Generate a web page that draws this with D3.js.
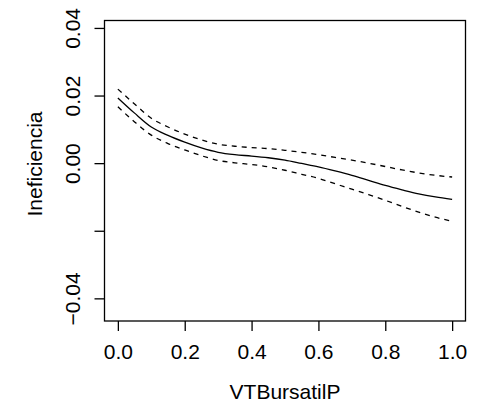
<!DOCTYPE html>
<html>
<head>
<meta charset="utf-8">
<script src="https://cdn.jsdelivr.net/npm/d3@7"></script>
<style>
  html, body { margin: 0; padding: 0; background: #fff; }
  svg { display: block; font-family: "Liberation Sans", Arial, Helvetica, sans-serif; }
</style>
</head>
<body>
<svg id="chart" width="490" height="404"></svg>
<script>
// Smooth term estimate for VTBursatilP with its upper/lower bands
const xValues = [0, 0.05, 0.1, 0.15, 0.2, 0.25, 0.3, 0.35, 0.4, 0.45, 0.5,
                 0.55, 0.6, 0.65, 0.7, 0.75, 0.8, 0.85, 0.9, 0.95, 1.0];
const fitValues = [0.0193, 0.0148, 0.0107, 0.0082, 0.0062, 0.0045, 0.0032, 0.0025, 0.0021, 0.0016, 0.0009,
                   -0.0001, -0.0011, -0.0023, -0.0036, -0.0051, -0.0066, -0.0079, -0.0091, -0.0100, -0.0107];
const upperValues = [0.0219, 0.0175, 0.0133, 0.0107, 0.0086, 0.0069, 0.0056, 0.0050, 0.0046, 0.0043, 0.0038,
                     0.0032, 0.0025, 0.0017, 0.0009, 0.0000, -0.0010, -0.0020, -0.0029, -0.0036, -0.0041];
const lowerValues = [0.0167, 0.0122, 0.0083, 0.0058, 0.0039, 0.0022, 0.0008, 0.0001, -0.0004, -0.0011, -0.0021,
                     -0.0033, -0.0045, -0.0061, -0.0077, -0.0093, -0.0110, -0.0128, -0.0145, -0.0160, -0.0172];
const xTicks = [0, 0.2, 0.4, 0.6, 0.8, 1.0];
const yTicks = [-0.04, -0.02, 0, 0.02, 0.04];
// -0.02 keeps its tick mark but its label is left out
const yTickLabels = ["\u22120.04", "", "0.00", "0.02", "0.04"];
const xLabel = "VTBursatilP";
const yLabel = "Ineficiencia";

const svg = d3.select("#chart");
const box = { left: 104.5, right: 465.5, top: 20.5, bottom: 321 };

const x = d3.scaleLinear().domain([-0.04, 1.04]).range([box.left, box.right]);
const y = d3.scaleLinear().domain([-0.0467, 0.0422]).range([box.bottom, box.top]);

const fontSize = 21;

// plot frame
svg.append("rect")
  .attr("x", box.left).attr("y", box.top)
  .attr("width", box.right - box.left).attr("height", box.bottom - box.top)
  .attr("fill", "none").attr("stroke", "#000").attr("stroke-width", 1.3);

// x axis
const xAxis = svg.append("g")
  .attr("transform", `translate(0,${box.bottom})`)
  .call(d3.axisBottom(x).tickValues(xTicks).tickSize(10).tickPadding(13)
        .tickFormat(d3.format(".1f")));
xAxis.select(".domain").remove();
xAxis.selectAll("line").attr("stroke", "#000").attr("stroke-width", 1.3);
xAxis.selectAll("text").attr("font-size", fontSize).attr("font-family", null).attr("fill", "#000");

// y axis with rotated labels
const yAxis = svg.append("g")
  .attr("transform", `translate(${box.left},0)`)
  .call(d3.axisLeft(y).tickValues(yTicks).tickSize(10)
        .tickFormat((d, i) => yTickLabels[i]));
yAxis.select(".domain").remove();
yAxis.selectAll("line").attr("stroke", "#000").attr("stroke-width", 1.3);
yAxis.selectAll("text")
  .attr("font-size", fontSize).attr("font-family", null).attr("fill", "#000")
  .attr("x", null).attr("dy", null)
  .attr("text-anchor", "middle")
  .attr("transform", "translate(-24.5,0) rotate(-90)");

// axis titles
svg.append("text")
  .attr("x", (box.left + box.right) / 2).attr("y", 399)
  .attr("text-anchor", "middle").attr("font-size", fontSize)
  .text(xLabel);
svg.append("text")
  .attr("transform", "translate(42,164) rotate(-90)")
  .attr("text-anchor", "middle").attr("font-size", fontSize)
  .text(yLabel);

// curves
const rows = xValues.map((v, i) => ({ x: v, fit: fitValues[i], up: upperValues[i], lo: lowerValues[i] }));
const line = key => d3.line().x(d => x(d.x)).y(d => y(d[key])).curve(d3.curveMonotoneX);

svg.append("path").datum(rows)
  .attr("d", line("fit")).attr("fill", "none").attr("stroke", "#000").attr("stroke-width", 1.3);
["up", "lo"].forEach(k => {
  svg.append("path").datum(rows)
    .attr("d", line(k)).attr("fill", "none").attr("stroke", "#000")
    .attr("stroke-width", 1.3).attr("stroke-dasharray", "5,5");
});
</script>
</body>
</html>
